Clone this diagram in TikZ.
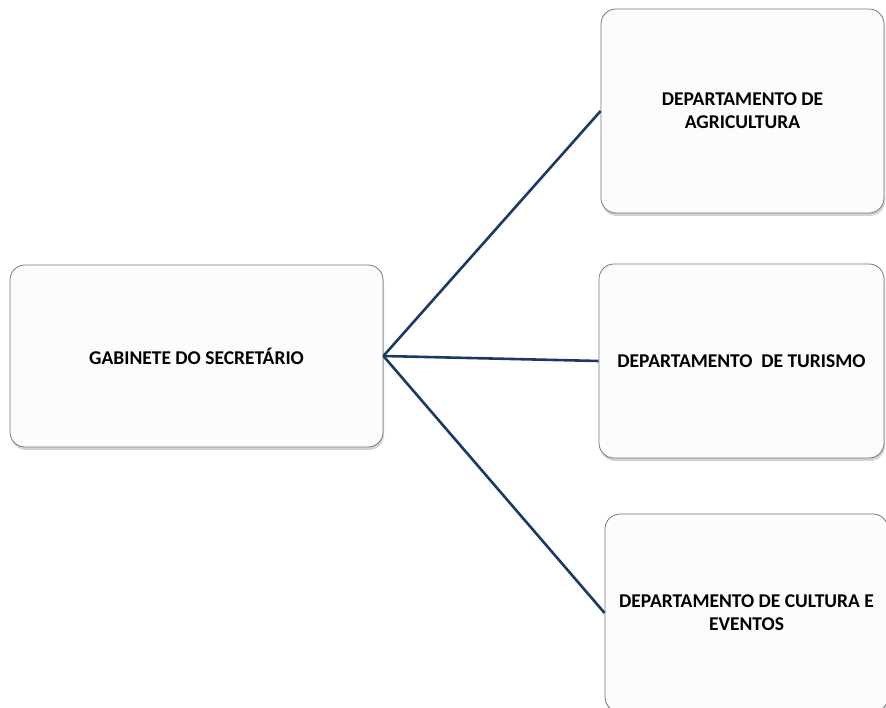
\documentclass[tikz,border=0pt]{standalone}
\usepackage{fontspec}
\setmainfont{Carlito}
\usepackage{tikz}
\usetikzlibrary{shadows}
\definecolor{linkblue}{RGB}{28,56,100}
\definecolor{boxline}{RGB}{120,120,120}
\tikzset{
  orgbox/.style={draw=boxline,line width=0.8pt,fill=white!99!black,rounded corners=15pt,
    inner sep=0pt,align=center,font=\fontsize{19.5}{23}\selectfont\bfseries,
    drop shadow={shadow xshift=1pt,shadow yshift=-3pt,opacity=0.35}},
  orglink/.style={draw=linkblue,line width=2.6pt}
}

\begin{document}
\begin{tikzpicture}[x=1pt,y=-1pt]
\useasboundingbox (0,0) rectangle (886,708);
\node[orgbox,minimum width=373pt,minimum height=182pt] (gab) at (196.5,356) {GABINETE DO SECRETÁRIO};
\node[orgbox,minimum width=283pt,minimum height=204pt] (agr) at (742.5,111) {DEPARTAMENTO DE\\AGRICULTURA};
\node[orgbox,minimum width=285pt,minimum height=194pt] (tur) at (741.5,361) {DEPARTAMENTO\ \ DE TURISMO};
\node[orgbox,minimum width=283pt,minimum height=198pt] (cul) at (746.5,613) {DEPARTAMENTO DE CULTURA E\\EVENTOS};
\draw[orglink] (gab.east) -- (agr.west);
\draw[orglink] (gab.east) -- (tur.west);
\draw[orglink] (gab.east) -- (cul.west);
\end{tikzpicture}
\end{document}
